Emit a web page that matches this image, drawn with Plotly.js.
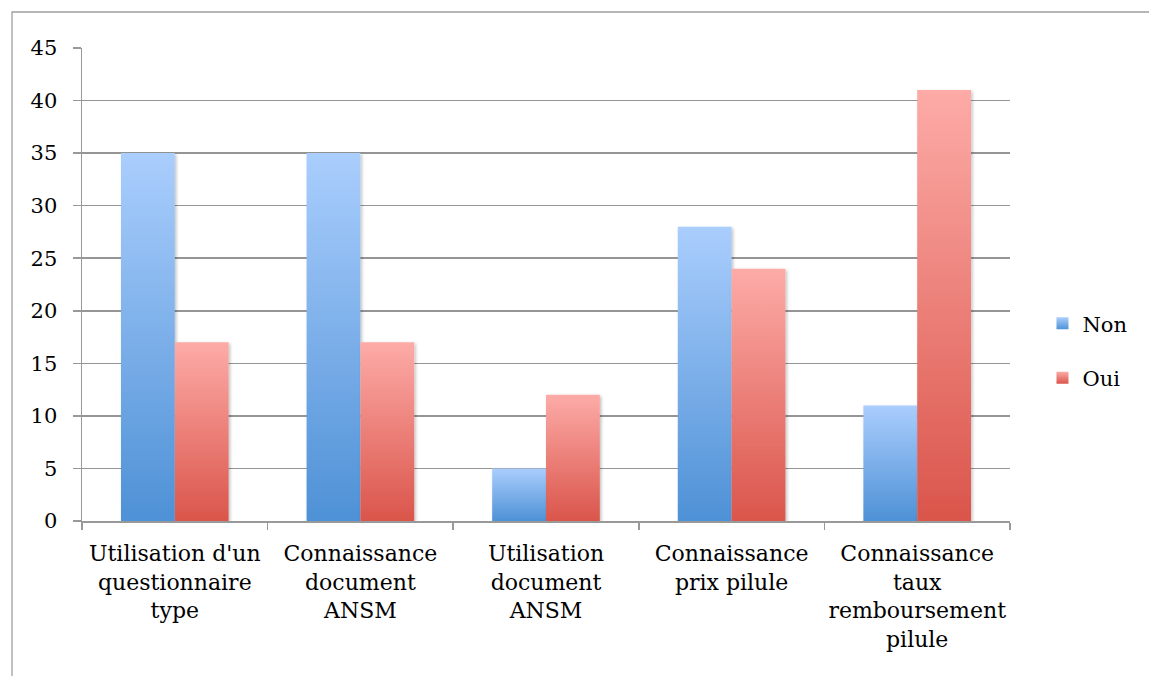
<!DOCTYPE html>
<html>
<head>
<meta charset="utf-8">
<script src="https://cdn.plot.ly/plotly-3.0.1.min.js"></script>
<style>html,body{margin:0;padding:0;background:#fff;}#chart{width:1149px;height:676px;}</style>
</head>
<body>
<div id="chart"></div>
<script>
const categories = [
  "Utilisation d'un<br>questionnaire<br>type",
  "Connaissance<br>document<br>ANSM",
  "Utilisation<br>document<br>ANSM",
  "Connaissance<br>prix pilule",
  "Connaissance<br>taux<br>remboursement<br>pilule"
];
const nonValues = [35, 35, 5, 28, 11];
const ouiValues = [17, 17, 12, 24, 41];
const seriesNames = ["Non", "Oui"];
const yTicks = [0, 5, 10, 15, 20, 25, 30, 35, 40, 45];

const FONT = "DejaVu Serif";
const data = [
  {type: "bar", name: seriesNames[0], x: categories, y: nonValues, legendgroup: "a",
   marker: {color: "#79acea"}, hoverinfo: "skip"},
  {type: "bar", name: seriesNames[1], x: categories, y: ouiValues, legendgroup: "b",
   marker: {color: "#ec7d76"}, hoverinfo: "skip"}
];
const layout = {
  width: 1149, height: 676,
  margin: {l: 82, r: 139, t: 48, b: 155},
  paper_bgcolor: "#ffffff", plot_bgcolor: "#ffffff",
  font: {family: FONT, size: 21, color: "#000"},
  barmode: "group", bargap: 0.42, bargroupgap: 0,
  showlegend: true,
  legend: {x: 1.035, y: 0.36, yanchor: "middle", xanchor: "left", font: {family: FONT, size: 21},
           tracegroupgap: 24, bgcolor: "rgba(0,0,0,0)"},
  xaxis: {type: "category", tickson: "boundaries", ticks: "outside", ticklen: 7, tickcolor: "#999",
          tickwidth: 1.5, showline: true, linecolor: "#999", linewidth: 1.5, showgrid: false,
          tickangle: 0, tickfont: {family: FONT, size: 22}, ticklabelstandoff: 12, fixedrange: true},
  yaxis: {range: [0, 45], tickvals: yTicks, ticktext: yTicks.map(String), ticks: "outside", ticklen: 8,
          tickcolor: "#999", tickwidth: 1.5, showline: true, linecolor: "#999", linewidth: 1.5,
          showgrid: true, gridcolor: "#959595", gridwidth: 1.6, zeroline: false,
          tickfont: {family: FONT, size: 21}, ticklabelstandoff: 11, fixedrange: true},
  shapes: [{type: "rect", xref: "paper", yref: "paper", x0: -0.0754, x1: 1.4, y0: -0.6, y1: 1.0761,
            line: {color: "#a0a0a0", width: 1.3}, fillcolor: "rgba(0,0,0,0)", layer: "below"}]
};

function applyGradients(gd) {
  const NS = "http://www.w3.org/2000/svg";
  const svg = gd.querySelector(".main-svg");
  let defs = svg.querySelector("defs");
  if (!defs) { defs = document.createElementNS(NS, "defs"); svg.insertBefore(defs, svg.firstChild); }
  const stops = [["#aacefd", "#4e91d6"], ["#fdaba7", "#da554b"]];
  stops.forEach((s, i) => {
    const g = document.createElementNS(NS, "linearGradient");
    g.setAttribute("id", "grad" + i);
    g.setAttribute("x1", "0"); g.setAttribute("y1", "0"); g.setAttribute("x2", "0"); g.setAttribute("y2", "1");
    [[0, s[0]], [1, s[1]]].forEach(([o, c]) => {
      const st = document.createElementNS(NS, "stop");
      st.setAttribute("offset", o); st.setAttribute("stop-color", c);
      g.appendChild(st);
    });
    defs.appendChild(g);
  });
  const f = document.createElementNS(NS, "filter");
  f.setAttribute("id", "barshadow");
  f.setAttribute("x", "-20%"); f.setAttribute("y", "-5%"); f.setAttribute("width", "140%"); f.setAttribute("height", "110%");
  const ds = document.createElementNS(NS, "feDropShadow");
  ds.setAttribute("dx", "1.5"); ds.setAttribute("dy", "1.5"); ds.setAttribute("stdDeviation", "1.5");
  ds.setAttribute("flood-color", "#000"); ds.setAttribute("flood-opacity", "0.25");
  f.appendChild(ds); defs.appendChild(f);

  gd.querySelectorAll(".barlayer .trace").forEach((t, i) => {
    t.querySelectorAll("path").forEach(p => {
      p.style.fill = "url(#grad" + i + ")";
      p.style.filter = "url(#barshadow)";
    });
  });
  gd.querySelectorAll(".legend .traces").forEach((t, i) => {
    t.querySelectorAll(".legendpoints path").forEach(p => { p.style.fill = "url(#grad" + i + ")"; });
  });
}

Plotly.newPlot("chart", data, layout, {displayModeBar: false, staticPlot: true}).then(applyGradients);
</script>
</body>
</html>
